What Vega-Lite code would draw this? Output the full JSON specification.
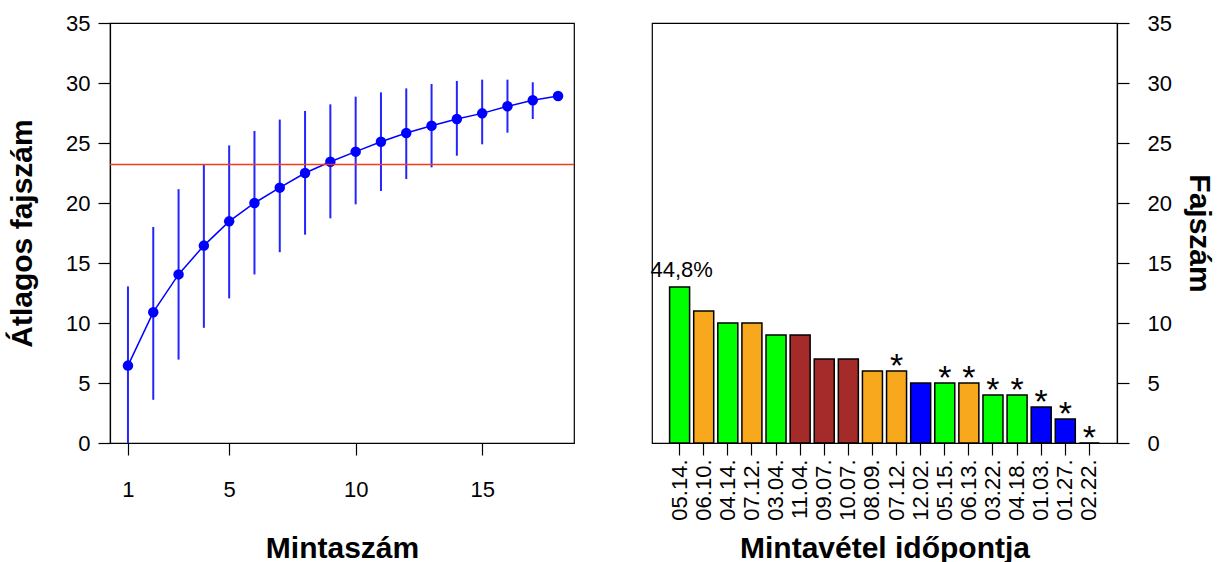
{
  "$schema": "https://vega.github.io/schema/vega-lite/v6.json",
  "padding": {"left": 6, "top": 11, "right": 0, "bottom": 0},
  "background": "white",
  "config": {
    "font": "Liberation Sans",
    "view": {"stroke": "black", "strokeWidth": 1.2},
    "axis": {
      "domainColor": "black", "tickColor": "black", "labelColor": "black", "titleColor": "black",
      "grid": false, "labelFontSize": 22, "titleFontSize": 30, "titleFontWeight": "bold",
      "tickSize": 12, "domainWidth": 1.2, "tickWidth": 1.2,
      "labelFont": "Liberation Sans", "titleFont": "Liberation Sans"
    }
  },
  "spacing": 73,
  "hconcat": [
    {
      "width": 464,
      "height": 420,
      "data": {"values": [
        {"n": 1, "mean": 6.45, "lo": 0, "hi": 13.05},
        {"n": 2, "mean": 10.9, "lo": 3.6, "hi": 18.0},
        {"n": 3, "mean": 14.05, "lo": 6.95, "hi": 21.15},
        {"n": 4, "mean": 16.45, "lo": 9.6, "hi": 23.25},
        {"n": 5, "mean": 18.47, "lo": 12.05, "hi": 24.8},
        {"n": 6, "mean": 20.0, "lo": 14.05, "hi": 26.0},
        {"n": 7, "mean": 21.28, "lo": 15.9, "hi": 26.95},
        {"n": 8, "mean": 22.5, "lo": 17.36, "hi": 27.67},
        {"n": 9, "mean": 23.44, "lo": 18.72, "hi": 28.22},
        {"n": 10, "mean": 24.28, "lo": 19.89, "hi": 28.86},
        {"n": 11, "mean": 25.11, "lo": 21.0, "hi": 29.22},
        {"n": 12, "mean": 25.83, "lo": 22.0, "hi": 29.55},
        {"n": 13, "mean": 26.44, "lo": 22.97, "hi": 29.92},
        {"n": 14, "mean": 27.0, "lo": 23.94, "hi": 30.17},
        {"n": 15, "mean": 27.47, "lo": 24.89, "hi": 30.28},
        {"n": 16, "mean": 28.06, "lo": 25.86, "hi": 30.28},
        {"n": 17, "mean": 28.56, "lo": 27.0, "hi": 30.06},
        {"n": 18, "mean": 28.92, "lo": 28.92, "hi": 28.92}
      ]},
      "layer": [
        {
          "mark": {"type": "rule", "color": "#2424FF", "strokeWidth": 2},
          "encoding": {
            "x": {"field": "n", "type": "quantitative",
              "scale": {"domain": [0.29, 18.63], "nice": false, "zero": false},
              "axis": {"values": [1, 5, 10, 15], "title": "Mintaszám", "labelPadding": 24, "titlePadding": 33, "labelFlush": false}},
            "y": {"field": "lo", "type": "quantitative",
              "scale": {"domain": [0, 35], "nice": false},
              "axis": {"values": [0, 5, 10, 15, 20, 25, 30, 35], "title": "Átlagos fajszám", "labelPadding": 8, "titlePadding": 28, "labelFlush": false}},
            "y2": {"field": "hi"}
          }
        },
        {
          "mark": {"type": "line", "color": "#0000FF", "strokeWidth": 1.5},
          "encoding": {
            "x": {"field": "n", "type": "quantitative"},
            "y": {"field": "mean", "type": "quantitative"}
          }
        },
        {
          "mark": {"type": "point", "filled": true, "color": "#0000FF", "size": 110, "opacity": 1},
          "encoding": {
            "x": {"field": "n", "type": "quantitative"},
            "y": {"field": "mean", "type": "quantitative"}
          }
        },
        {
          "data": {"values": [{"ref": 23.2}]},
          "mark": {"type": "rule", "color": "#F03C1E", "strokeWidth": 1.5},
          "encoding": {"y": {"field": "ref", "type": "quantitative"}}
        }
      ]
    },
    {
      "width": 465,
      "height": 420,
      "data": {"values": [
        {"date": "05.14.", "fajszam": 13, "season": "tavasz", "note": "44,8%"},
        {"date": "06.10.", "fajszam": 11, "season": "nyár", "note": ""},
        {"date": "04.14.", "fajszam": 10, "season": "tavasz", "note": ""},
        {"date": "07.12.", "fajszam": 10, "season": "nyár", "note": ""},
        {"date": "03.04.", "fajszam": 9, "season": "tavasz", "note": ""},
        {"date": "11.04.", "fajszam": 9, "season": "ősz", "note": ""},
        {"date": "09.07.", "fajszam": 7, "season": "ősz", "note": ""},
        {"date": "10.07.", "fajszam": 7, "season": "ősz", "note": ""},
        {"date": "08.09.", "fajszam": 6, "season": "nyár", "note": ""},
        {"date": "07.12.\u200b", "fajszam": 6, "season": "nyár", "note": "*"},
        {"date": "12.02.", "fajszam": 5, "season": "tél", "note": ""},
        {"date": "05.15.", "fajszam": 5, "season": "tavasz", "note": "*"},
        {"date": "06.13.", "fajszam": 5, "season": "nyár", "note": "*"},
        {"date": "03.22.", "fajszam": 4, "season": "tavasz", "note": "*"},
        {"date": "04.18.", "fajszam": 4, "season": "tavasz", "note": "*"},
        {"date": "01.03.", "fajszam": 3, "season": "tél", "note": "*"},
        {"date": "01.27.", "fajszam": 2, "season": "tél", "note": "*"},
        {"date": "02.22.", "fajszam": 0, "season": "tél", "note": "*"}
      ]},
      "encoding": {
        "x": {"field": "date", "type": "nominal", "sort": null,
          "scale": {"paddingInner": 0.17, "paddingOuter": 0.73},
          "axis": {"labelAngle": -90, "labelPadding": 4, "title": "Mintavétel időpontja", "titlePadding": 13}}
      },
      "layer": [
        {
          "mark": {"type": "bar", "stroke": "black", "strokeWidth": 1.5},
          "encoding": {
            "y": {"field": "fajszam", "type": "quantitative",
              "scale": {"domain": [0, 35], "nice": false},
              "axis": {"orient": "right", "values": [0, 5, 10, 15, 20, 25, 30, 35], "title": "Fajszám", "labelPadding": 18, "titlePadding": 12, "labelFlush": false}},
            "color": {"field": "season", "type": "nominal",
              "scale": {"domain": ["tavasz", "nyár", "ősz", "tél"], "range": ["#00FF00", "#F8A81C", "#A52A2A", "#0000FF"]},
              "legend": null}
          }
        },
        {
          "transform": [{"filter": "datum.note == '*'"}],
          "mark": {"type": "text", "fontSize": 34, "fontWeight": "normal", "baseline": "alphabetic", "dy": 6, "color": "black"},
          "encoding": {
            "y": {"field": "fajszam", "type": "quantitative"},
            "text": {"field": "note"}
          }
        },
        {
          "transform": [{"filter": "datum.note == '44,8%'"}],
          "mark": {"type": "text", "fontSize": 22, "baseline": "alphabetic", "dy": -10, "dx": 2, "color": "black"},
          "encoding": {
            "y": {"field": "fajszam", "type": "quantitative"},
            "text": {"field": "note"}
          }
        }
      ]
    }
  ]
}
